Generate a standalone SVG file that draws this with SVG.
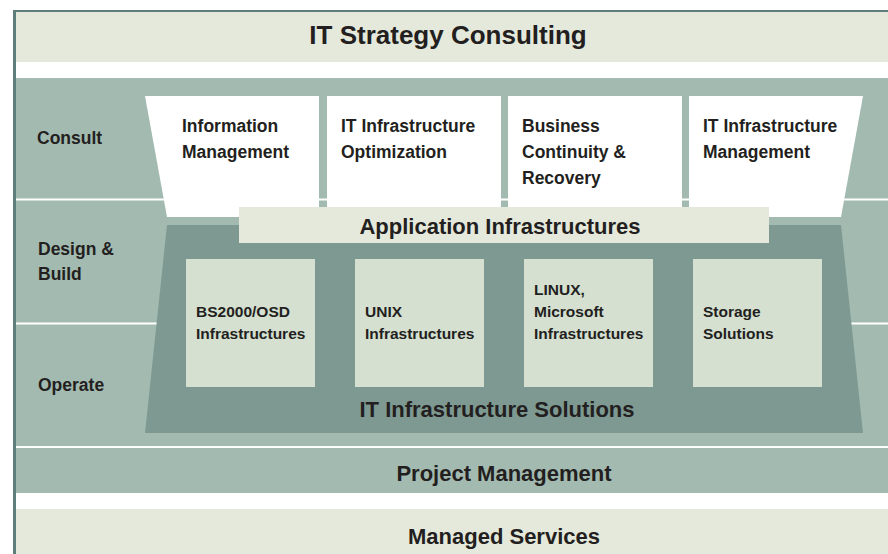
<svg xmlns="http://www.w3.org/2000/svg" width="888" height="554" viewBox="0 0 888 554">
<style>
text{font-family:"Liberation Sans",Arial,sans-serif;font-weight:bold;fill:#231f20}
.t{font-size:26px;text-anchor:middle}
.b{font-size:22px;text-anchor:middle}
.l{font-size:17.5px}
.s{font-size:15.5px}
.light{fill:#e5e9dc}
.teal{fill:#a3bab1}
.dark{fill:#7d9991}
.inner{fill:#d5e0d0}
.white{fill:#ffffff}
</style>
<rect x="0" y="0" width="888" height="554" fill="#ffffff"/>
<g id="frame">
<rect x="13" y="10" width="875" height="2" fill="#5e7e7c"/>
<rect x="13" y="10" width="3" height="544" fill="#5e7e7c"/>
</g>
<g id="strategy">
<rect class="light" x="16" y="12" width="872" height="50"/>
<text class="t" x="448" y="44">IT Strategy Consulting</text>
</g>
<g id="layers">
<rect class="teal" x="16" y="78" width="872" height="368"/>
<rect class="white" x="16" y="198.5" width="872" height="2"/>
<rect class="white" x="16" y="322.5" width="872" height="2"/>
<text class="l" x="37" y="144">Consult</text>
<text class="l" x="38" y="255">Design &amp;</text>
<text class="l" x="38" y="280">Build</text>
<text class="l" x="38" y="391">Operate</text>
</g>
<g id="consult-information-management">
<polygon class="white" points="145,96 319,96 319,217 167,217"/>
<text class="l" x="182" y="132">Information</text>
<text class="l" x="182" y="158">Management</text>
</g>
<g id="consult-optimization">
<rect class="white" x="327" y="96" width="174" height="121"/>
<text class="l" x="341" y="132">IT Infrastructure</text>
<text class="l" x="341" y="158">Optimization</text>
</g>
<g id="consult-continuity">
<rect class="white" x="508" y="96" width="174" height="121"/>
<text class="l" x="522" y="132">Business</text>
<text class="l" x="522" y="158">Continuity &amp;</text>
<text class="l" x="522" y="184">Recovery</text>
</g>
<g id="consult-management">
<polygon class="white" points="689,96 863,96 841,217 689,217"/>
<text class="l" x="703" y="132">IT Infrastructure</text>
<text class="l" x="703" y="158">Management</text>
</g>
<g id="infrastructure-solutions">
<polygon class="dark" points="167,225 841,225 863,433 145,433"/>
<text class="b" x="497" y="417">IT Infrastructure Solutions</text>
</g>
<g id="application-infrastructures">
<rect class="light" x="239" y="207" width="530" height="36"/>
<text class="b" x="500" y="234">Application Infrastructures</text>
</g>
<g id="bs2000">
<rect class="inner" x="186" y="259" width="129" height="128"/>
<text class="s" x="196" y="317">BS2000/OSD</text>
<text class="s" x="196" y="339">Infrastructures</text>
</g>
<g id="unix">
<rect class="inner" x="355" y="259" width="129" height="128"/>
<text class="s" x="365" y="317">UNIX</text>
<text class="s" x="365" y="339">Infrastructures</text>
</g>
<g id="linux-microsoft">
<rect class="inner" x="524" y="259" width="129" height="128"/>
<text class="s" x="534" y="295">LINUX,</text>
<text class="s" x="534" y="317">Microsoft</text>
<text class="s" x="534" y="339">Infrastructures</text>
</g>
<g id="storage">
<rect class="inner" x="693" y="259" width="129" height="128"/>
<text class="s" x="703" y="317">Storage</text>
<text class="s" x="703" y="339">Solutions</text>
</g>
<g id="project-management">
<rect class="teal" x="16" y="448" width="872" height="45"/>
<text class="b" x="504" y="481">Project Management</text>
</g>
<g id="managed-services">
<rect class="light" x="16" y="509" width="872" height="45"/>
<text class="b" x="504" y="544">Managed Services</text>
</g>
<g id="connectors"/>
</svg>
